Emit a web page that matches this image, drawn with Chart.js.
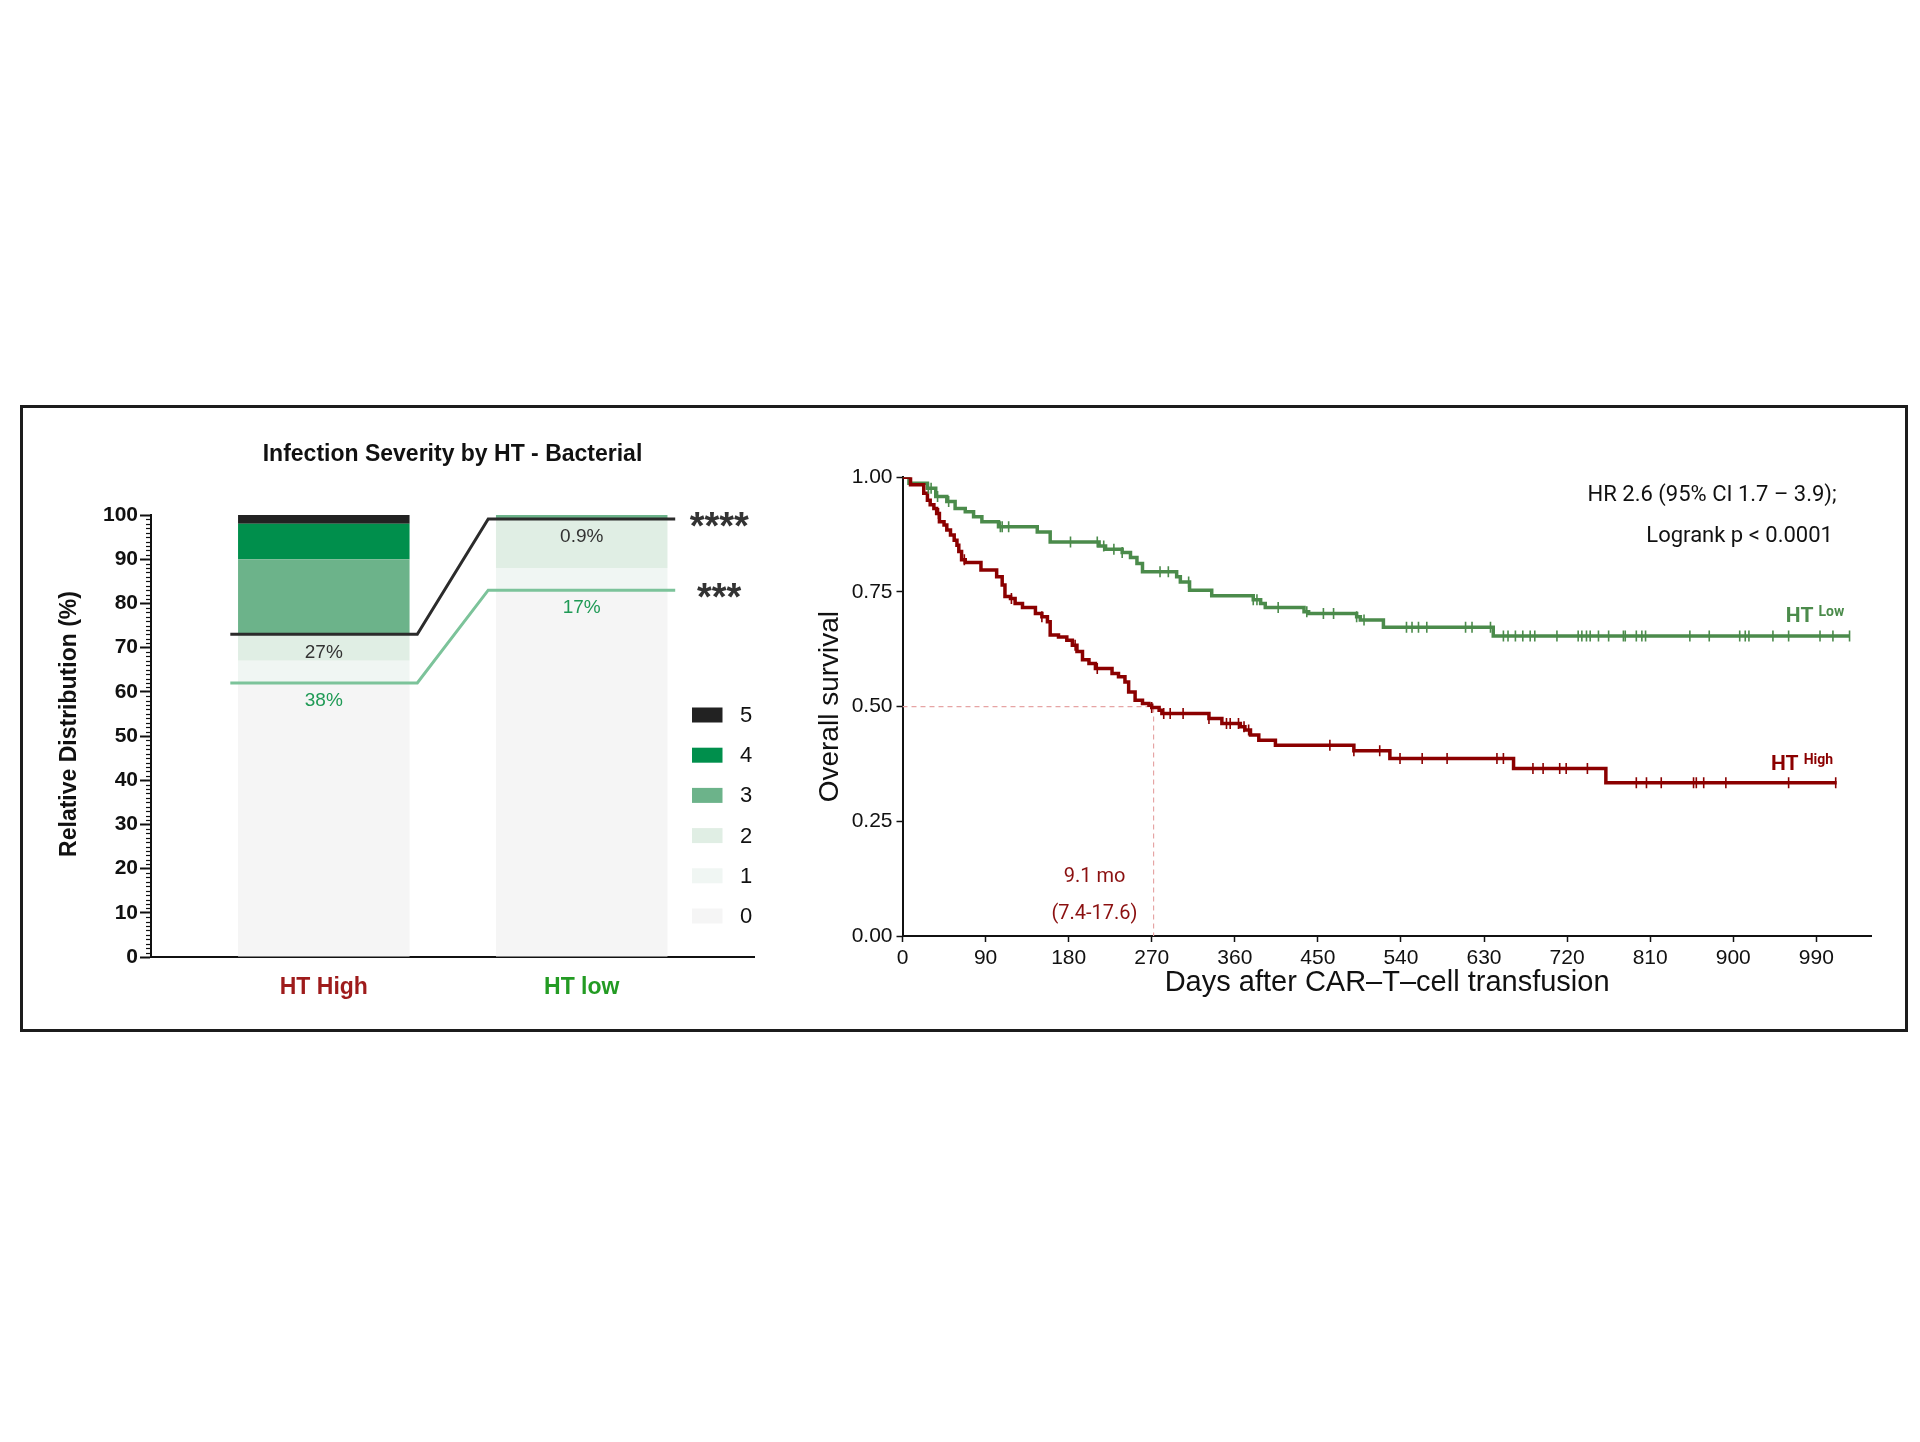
<!DOCTYPE html>
<html><head><meta charset="utf-8">
<script src="https://cdn.jsdelivr.net/npm/chart.js@4"></script>
<style>
html,body{margin:0;padding:0;background:#fff;}
#page{position:relative;width:1920px;height:1442px;overflow:hidden;background:#fff;}
#frame{position:absolute;left:20px;top:405px;width:1882px;height:621px;border:3px solid #1c1c1c;}
canvas{position:absolute;left:0;top:0;}
</style></head><body>
<div id="page"><div id="frame"></div>
<canvas id="bar" width="1920" height="1442"></canvas>
<canvas id="km" width="1920" height="1442"></canvas>
</div>
<script>
// ---------- Left chart data ----------
const categories = ['HT High', 'HT low'];
const gradeLabels = ['0', '1', '2', '3', '4', '5'];
const grade0 = [62, 83];
const grade1 = [5, 5];
const grade2 = [6, 11.1];
const grade3 = [17, 0.9];
const grade4 = [8, 0];
const grade5 = [2, 0];
const severeRate = [27, 0.9];   // grade >= 3 (%)
const anyRate = [38, 17];       // grade >= 1 (%)
const severeSig = '****';
const anySig = '***';
const yTicksLeft = [0, 10, 20, 30, 40, 50, 60, 70, 80, 90, 100];

// ---------- Right chart data ----------
const redTimes = [0, 8.7, 23, 27, 30, 34, 37, 40, 45, 48, 52, 56, 59, 61, 64, 68, 85, 102, 108, 111, 117, 122, 130, 144, 151, 157, 160, 169, 178, 184, 189, 195, 202, 209, 227, 234, 241, 245, 252, 260, 267, 270, 278, 281, 332, 346, 366, 371, 377, 386, 404, 489, 528, 662, 762, 1012];
const redSurv = [1, .984, .965, .950, .940, .932, .921, .903, .896, .885, .874, .863, .852, .838, .820, .814, .798, .783, .765, .740, .736, .725, .716, .703, .696, .685, .656, .652, .645, .634, .620, .602, .594, .583, .572, .565, .554, .532, .514, .507, .503, .498, .492, .485, .474, .463, .456, .449, .438, .427, .416, .404, .387, .365, .334, .334];
const greenTimes = [0, 7, 27, 36, 48, 57, 68, 77, 86, 104, 146, 160, 213, 220, 238, 247, 254, 260, 297, 301, 311, 335, 380, 388, 393, 435, 440, 492, 496, 521, 640, 1026];
const greenSurv = [1, .987, .976, .958, .947, .932, .925, .914, .903, .892, .881, .859, .850, .843, .836, .825, .812, .794, .783, .772, .754, .742, .733, .725, .716, .707, .703, .696, .689, .673, .654, .654];
const redCensor = [39, 67, 118, 151, 187, 211, 270, 283, 290, 304, 332, 351, 355, 364, 370, 375, 463, 489, 517, 539, 563, 590, 644, 651, 683, 694, 712, 719, 742, 795, 806, 822, 857, 860, 868, 892, 960, 1011];
const greenCensor = [28, 31, 38, 50, 106, 108, 115, 182, 211, 218, 229, 238, 279, 288, 310, 380, 384, 407, 438, 456, 467, 492, 500, 546, 552, 559, 568, 610, 617, 637, 651, 656, 664, 672, 680, 685, 709, 732, 736, 741, 745, 754, 765, 781, 783, 795, 801, 805, 853, 874, 907, 913, 917, 943, 960, 994, 1008, 1026];
const medianDay = 272;
const medianText = ['9.1 mo', '(7.4-17.6)'];
const hrText = 'HR 2.6 (95% CI 1.7 \u2013 3.9);';
const pText = 'Logrank p < 0.0001';
const xTickStep = 90;
const yTicksRight = [0, 0.25, 0.5, 0.75, 1];

// ---------- styles ----------
const gradeColors = ['#f5f5f5', '#f0f6f3', '#e0eee4', '#6cb38a', '#008f4c', '#222222'];
const catColors = ['#9e1b1b', '#239b23'];
const GREEN = '#4b8b4b', RED = '#8b0000';
const BAR_FRAC = 0.665;
const EXT = BAR_FRAC / 2 + 0.03;
const SANS = '"Liberation Sans", Arial, sans-serif';
const ROBO = 'Roboto, "Liberation Sans", sans-serif';

const gradeValues = [grade0, grade1, grade2, grade3, grade4, grade5];

function connector(rates, color) {
  return {
    type: 'line',
    data: rates.flatMap((r, i) => [{x: i - EXT, y: 100 - r}, {x: i + EXT, y: 100 - r}]),
    borderColor: color, borderWidth: 3, pointRadius: 0, tension: 0,
    xAxisID: 'x', yAxisID: 'y2', order: 0
  };
}

const barDatasets = gradeLabels.map((g, k) => ({
  type: 'bar', label: g,
  data: categories.map((c, i) => ({x: i, y: gradeValues[k][i]})),
  backgroundColor: gradeColors[k], borderWidth: 0,
  categoryPercentage: BAR_FRAC, barPercentage: 1,
  xAxisID: 'x', yAxisID: 'y', order: 2
}));

const leftPlugin = {
  id: 'leftDecor',
  afterDraw(chart) {
    const ctx = chart.ctx, ca = chart.chartArea;
    const xs = chart.scales.x, ys = chart.scales.y;
    ctx.save();
    // minor ticks
    ctx.strokeStyle = '#111'; ctx.lineWidth = 1.2;
    for (let v = 0; v <= 100; v++) {
      if (v % 10 === 0) continue;
      const py = Math.round(ys.getPixelForValue(v)) + 0.5;
      ctx.beginPath(); ctx.moveTo(ca.left - 5, py); ctx.lineTo(ca.left, py); ctx.stroke();
    }
    // title
    ctx.fillStyle = '#111'; ctx.textAlign = 'center'; ctx.textBaseline = 'middle';
    ctx.font = 'bold 23px ' + SANS;
    ctx.fillText('Infection Severity by HT - Bacterial', (ca.left + ca.right) / 2, ca.top - 60);
    // y title
    ctx.save();
    ctx.translate(ca.left - 81, (ca.top + ca.bottom) / 2 - 12);
    ctx.rotate(-Math.PI / 2);
    ctx.font = 'bold 23px ' + SANS;
    ctx.fillText('Relative Distribution (%)', 0, 0);
    ctx.restore();
    // percent labels
    ctx.font = '19px ' + SANS;
    categories.forEach((c, i) => {
      const cx = xs.getPixelForValue(i);
      ctx.fillStyle = '#333';
      ctx.fillText(severeRate[i] + '%', cx, ys.getPixelForValue(100 - severeRate[i]) + 18);
      ctx.fillStyle = '#1f9a55';
      ctx.fillText(anyRate[i] + '%', cx, ys.getPixelForValue(100 - anyRate[i]) + 18);
    });
    // significance stars
    ctx.fillStyle = '#333'; ctx.font = 'bold 38px ' + SANS; ctx.textBaseline = 'alphabetic';
    const last = categories.length - 1;
    const sx = xs.getPixelForValue(last + EXT) + 44;
    ctx.fillText(severeSig, sx, ys.getPixelForValue(100 - severeRate[last]) + 20);
    ctx.fillText(anySig, sx, ys.getPixelForValue(100 - anyRate[last]) + 20);
    // legend (5 on top)
    ctx.textAlign = 'left'; ctx.textBaseline = 'middle'; ctx.font = '22px ' + SANS;
    for (let j = 0; j < gradeLabels.length; j++) {
      const k = gradeLabels.length - 1 - j;
      const cy = ca.top + 200 + j * 40.2;
      ctx.fillStyle = gradeColors[k];
      ctx.fillRect(ca.right - 62, cy - 7.5, 30.5, 15);
      ctx.fillStyle = '#111';
      ctx.fillText(gradeLabels[k], ca.right - 14, cy + 1);
    }
    ctx.restore();
  }
};

new Chart(document.getElementById('bar'), {
  type: 'bar',
  data: {datasets: [...barDatasets, connector(severeRate, '#2b2b2b'), connector(anyRate, '#7cc39a')]},
  options: {
    responsive: false, animation: false, devicePixelRatio: 1,
    layout: {padding: {left: 71, right: 1166, top: 515, bottom: 425}},
    plugins: {legend: {display: false}, tooltip: {enabled: false}},
    scales: {
      x: {
        type: 'linear', min: -0.67, max: 1.668, stacked: true, offset: false,
        grid: {display: false},
        border: {display: true, color: '#111', width: 2},
        ticks: {
          includeBounds: false, padding: 9,
          callback: (v) => categories[v],
          color: (c) => catColors[c.index],
          font: {family: SANS, size: 23, weight: 'bold'}
        },
        afterBuildTicks: (s) => { s.ticks = categories.map((c, i) => ({value: i})); },
        afterFit: (s) => { s.height = 60; }
      },
      y: {
        type: 'linear', min: 0, max: 100, stacked: true,
        afterBuildTicks: (s) => { s.ticks = yTicksLeft.map(v => ({value: v})); },
        ticks: {color: '#111', padding: 2, font: {family: SANS, size: 21, weight: 'bold'}},
        grid: {display: true, drawOnChartArea: false, tickLength: 11, tickWidth: 2, color: '#111', tickColor: '#111'},
        border: {display: true, color: '#111', width: 2},
        afterFit: (s) => { s.width = 80; }
      },
      y2: {type: 'linear', display: false, min: 0, max: 100}
    }
  },
  plugins: [leftPlugin]
});

// ---------- Right chart ----------
function steps(times, surv) { return times.map((t, i) => ({x: t, y: surv[i]})); }
function survAt(times, surv, t) {
  let s = surv[0];
  for (let i = 0; i < times.length; i++) { if (times[i] <= t) s = surv[i]; }
  return s;
}
function censorSet(cens, times, surv, color) {
  return {
    type: 'line', showLine: false,
    data: cens.map(t => ({x: t, y: survAt(times, surv, t)})),
    pointStyle: 'line', pointRotation: 90, pointRadius: 5.5,
    pointBorderWidth: 1.6, pointBorderColor: color, borderColor: color, order: 0
  };
}

const rightPlugin = {
  id: 'rightDecor',
  afterDraw(chart) {
    const ctx = chart.ctx, ca = chart.chartArea;
    const xs = chart.scales.x, ys = chart.scales.y;
    ctx.save();
    ctx.textBaseline = 'middle';
    // axis titles
    ctx.fillStyle = '#111'; ctx.textAlign = 'center'; ctx.font = '29px ' + SANS;
    ctx.fillText('Days after CAR\u2013T\u2013cell transfusion', (ca.left + ca.right) / 2, ca.bottom + 47);
    ctx.save();
    ctx.translate(ca.left - 72, (ca.top + ca.bottom) / 2);
    ctx.rotate(-Math.PI / 2);
    ctx.font = '28px ' + SANS;
    ctx.fillText('Overall survival', 0, 0);
    ctx.restore();
    // HR / logrank
    ctx.textAlign = 'right'; ctx.font = '22px ' + ROBO; ctx.fillStyle = '#111';
    ctx.fillText(hrText, xs.getPixelForValue(1012), ys.getPixelForValue(0.961));
    ctx.fillText(pText, xs.getPixelForValue(1008), ys.getPixelForValue(0.871));
    // group labels
    function grp(main, sup, day, val, color) {
      ctx.textAlign = 'left'; ctx.fillStyle = color;
      ctx.font = 'bold 21px ' + ROBO;
      const px = xs.getPixelForValue(day), py = ys.getPixelForValue(val);
      ctx.fillText(main, px, py);
      const w = ctx.measureText(main).width;
      ctx.font = 'bold 14px ' + ROBO;
      ctx.fillText(sup, px + w + 5, py - 4);
    }
    grp('HT', 'Low', 957, 0.696, GREEN);
    grp('HT', 'High', 941, 0.373, RED);
    // median label
    ctx.textAlign = 'center'; ctx.fillStyle = '#8b1010'; ctx.font = '20px ' + ROBO;
    ctx.fillText(medianText[0], xs.getPixelForValue(208), ys.getPixelForValue(0.129));
    ctx.fillText(medianText[1], xs.getPixelForValue(208), ys.getPixelForValue(0.049));
    ctx.restore();
  }
};

new Chart(document.getElementById('km'), {
  type: 'line',
  data: {
    datasets: [
      {data: [{x: 0, y: 0.5}, {x: medianDay, y: 0.5}, {x: medianDay, y: 0}], borderColor: '#e6a4a4', borderWidth: 1.2, borderDash: [5, 4], pointRadius: 0, order: 3},
      {data: steps(redTimes, redSurv), stepped: 'before', borderColor: RED, borderWidth: 3.5, pointRadius: 0, order: 1},
      {data: steps(greenTimes, greenSurv), stepped: 'before', borderColor: GREEN, borderWidth: 3.5, pointRadius: 0, order: 1},
      censorSet(redCensor, redTimes, redSurv, RED),
      censorSet(greenCensor, greenTimes, greenSurv, GREEN)
    ]
  },
  options: {
    responsive: false, animation: false, devicePixelRatio: 1,
    layout: {padding: {left: 822.5, right: 48.3, top: 477.3, bottom: 436}},
    plugins: {legend: {display: false}, tooltip: {enabled: false}},
    scales: {
      x: {
        type: 'linear', min: 0, max: 1050,
        ticks: {stepSize: xTickStep, includeBounds: false, color: '#111', padding: 4, font: {family: SANS, size: 21}},
        grid: {display: true, drawOnChartArea: false, tickLength: 6, tickWidth: 1.5, color: '#111', tickColor: '#111'},
        border: {display: true, color: '#111', width: 2},
        afterFit: (s) => { s.height = 70; }
      },
      y: {
        type: 'linear', min: 0, max: 1,
        afterBuildTicks: (s) => { s.ticks = yTicksRight.map(v => ({value: v})); },
        ticks: {callback: (v) => Number(v).toFixed(2), color: '#111', padding: 4, font: {family: SANS, size: 21}},
        grid: {display: true, drawOnChartArea: false, tickLength: 6, tickWidth: 1.5, color: '#111', tickColor: '#111'},
        border: {display: true, color: '#111', width: 2},
        afterFit: (s) => { s.width = 80; }
      }
    }
  },
  plugins: [rightPlugin]
});
</script>
</body></html>
